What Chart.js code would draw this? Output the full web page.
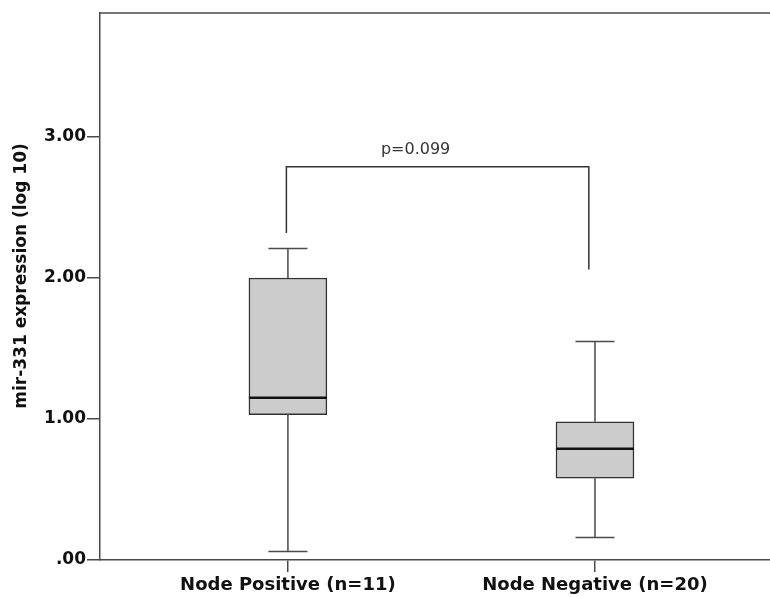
<!DOCTYPE html>
<html>
<head>
<meta charset="utf-8">
<script src="https://cdn.jsdelivr.net/npm/chart.js@4"></script>
<style>
  html, body { margin: 0; padding: 0; background: #fff; }
  #wrap { width: 770px; height: 597px; }
</style>
</head>
<body>
<div id="wrap"><canvas id="boxChart" width="770" height="597"></canvas></div>
<script>
// group labels and their x positions on the scale
var groups = ['Node Positive (n=11)', 'Node Negative (n=20)'];
var groupPos = [1, 2];

// box plot summaries
var whiskerLow = [0.06, 0.16];
var q1 = [1.03, 0.58];
var median = [1.15, 0.79];
var q3 = [2.00, 0.98];
var whiskerHigh = [2.21, 1.55];

// significance bracket
var bracketX = [0.995, 1.98];
var bracketTop = 2.79;
var bracketEnds = [2.32, 2.06];
var pLabel = 'p=0.099';

var yTicks = [0, 1, 2, 3];
var yTitle = 'mir-331 expression (log 10)';

var lineColor = '#4a4a4a';
var boldFont = '"DejaVu Sans", Verdana, sans-serif';

var boxExtras = {
    id: 'boxExtras',
    afterDatasetsDraw: function (chart) {
        var ctx = chart.ctx;
        var xs = chart.scales.x, ys = chart.scales.y;
        var area = chart.chartArea;
        ctx.save();
        ctx.strokeStyle = lineColor;
        ctx.lineWidth = 1.5;
        // top frame line
        ctx.beginPath();
        ctx.moveTo(area.left, area.top);
        ctx.lineTo(area.right, area.top);
        ctx.stroke();

        for (var i = 0; i < groups.length; i++) {
            var cx = xs.getPixelForValue(groupPos[i]);
            var half = 19.5;
            ctx.strokeStyle = lineColor;
            ctx.lineWidth = 1.5;
            ctx.beginPath();
            // upper whisker
            ctx.moveTo(cx, ys.getPixelForValue(q3[i]));
            ctx.lineTo(cx, ys.getPixelForValue(whiskerHigh[i]));
            ctx.moveTo(cx - half, ys.getPixelForValue(whiskerHigh[i]));
            ctx.lineTo(cx + half, ys.getPixelForValue(whiskerHigh[i]));
            // lower whisker
            ctx.moveTo(cx, ys.getPixelForValue(q1[i]));
            ctx.lineTo(cx, ys.getPixelForValue(whiskerLow[i]));
            ctx.moveTo(cx - half, ys.getPixelForValue(whiskerLow[i]));
            ctx.lineTo(cx + half, ys.getPixelForValue(whiskerLow[i]));
            ctx.stroke();
            // median
            ctx.strokeStyle = '#111';
            ctx.lineWidth = 2.5;
            ctx.beginPath();
            ctx.moveTo(cx - 39, ys.getPixelForValue(median[i]));
            ctx.lineTo(cx + 39, ys.getPixelForValue(median[i]));
            ctx.stroke();
        }

        // bracket
        var bx0 = xs.getPixelForValue(bracketX[0]);
        var bx1 = xs.getPixelForValue(bracketX[1]);
        var by = ys.getPixelForValue(bracketTop);
        ctx.strokeStyle = '#333';
        ctx.lineWidth = 1.5;
        ctx.beginPath();
        ctx.moveTo(bx0, ys.getPixelForValue(bracketEnds[0]));
        ctx.lineTo(bx0, by);
        ctx.lineTo(bx1, by);
        ctx.lineTo(bx1, ys.getPixelForValue(bracketEnds[1]));
        ctx.stroke();

        ctx.fillStyle = '#333';
        ctx.font = '16px "DejaVu Sans", sans-serif';
        ctx.textAlign = 'center';
        ctx.textBaseline = 'alphabetic';
        ctx.fillText(pLabel, (bx0 + bx1) / 2 - 22, by - 13);

        // y axis title
        ctx.translate(22, 276);
        ctx.rotate(-Math.PI / 2);
        ctx.fillStyle = '#111';
        ctx.font = 'bold 17px ' + boldFont;
        ctx.textBaseline = 'middle';
        ctx.fillText(yTitle, 0, 0);
        ctx.restore();
    }
};

var ctx = document.getElementById('boxChart').getContext('2d');
var chart = new Chart(ctx, {
    type: 'bar',
    data: {
        datasets: [{
            data: groupPos.map(function (x, i) { return { x: x, y: [q1[i], q3[i]] }; }),
            backgroundColor: '#cccccc',
            borderColor: '#333333',
            borderWidth: 1.5,
            borderSkipped: false,
            barThickness: 78
        }]
    },
    options: {
        responsive: false,
        animation: false,
        layout: { padding: { top: 13, right: 0, left: 0, bottom: 0 } },
        plugins: {
            legend: { display: false },
            tooltip: { enabled: false }
        },
        scales: {
            x: {
                type: 'linear',
                offset: false,
                min: 0.388,
                max: 2.57,
                afterBuildTicks: function (axis) {
                    axis.ticks = groupPos.map(function (v) { return { value: v }; });
                },
                afterFit: function (axis) { axis.height = 37; },
                grid: {
                    offset: false,
                    drawOnChartArea: false,
                    drawTicks: true,
                    tickLength: 12,
                    color: lineColor,
                    lineWidth: 1.5
                },
                border: { display: true, color: lineColor, width: 1.5 },
                ticks: {
                    autoSkip: false,
                    maxRotation: 0,
                    padding: 3,
                    color: '#111',
                    font: { family: boldFont, size: 18, weight: 'bold' },
                    callback: function (v) {
                        var idx = groupPos.indexOf(v);
                        return idx >= 0 ? groups[idx] : '';
                    }
                }
            },
            y: {
                min: 0,
                max: 3.88,
                afterBuildTicks: function (axis) {
                    axis.ticks = yTicks.map(function (v) { return { value: v }; });
                },
                afterFit: function (axis) { axis.width = 100; },
                grid: {
                    drawOnChartArea: false,
                    drawTicks: true,
                    tickLength: 13,
                    color: lineColor,
                    lineWidth: 1.5
                },
                border: { display: true, color: lineColor, width: 1.5 },
                ticks: {
                    padding: 1,
                    color: '#111',
                    font: { family: boldFont, size: 17, weight: 'bold' },
                    callback: function (v) {
                        return v === 0 ? '.00' : v.toFixed(2);
                    }
                }
            }
        }
    },
    plugins: [boxExtras]
});
</script>
</body>
</html>
